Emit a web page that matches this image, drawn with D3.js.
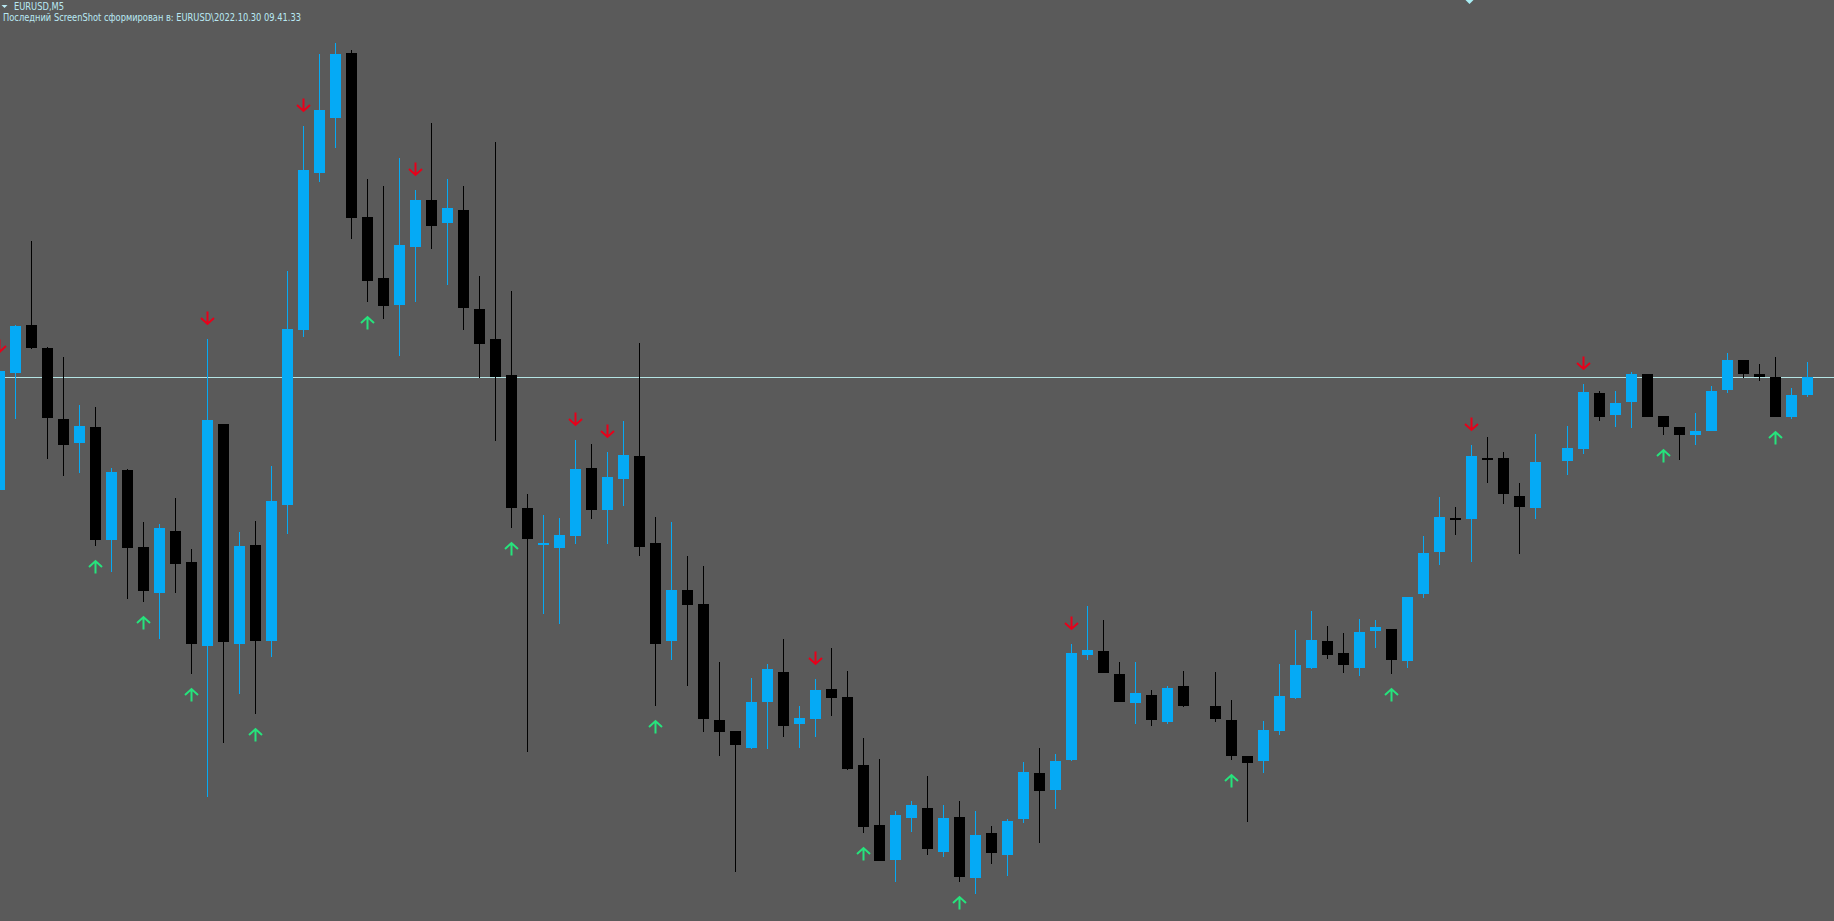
<!DOCTYPE html>
<html>
<head>
<meta charset="utf-8">
<script src="https://cdn.jsdelivr.net/npm/d3@7"></script>
<style>
  body { margin: 0; background: #5a5a5a; overflow: hidden; }
  svg { display: block; }
</style>
</head>
<body>
<svg id="plotCanvas"></svg>
<script>
var canvasWidth = 1834;
var canvasHeight = 921;

// EURUSD M5 bars, null = missing bar
var open = [0.99537,0.99654,0.99702,0.99679,0.99608,0.99584,0.99600,0.99487,0.99557,0.99480,
            0.99434,0.99496,0.99465,0.99381,0.99603,0.99383,0.99482,0.99386,0.99522,0.99697,
            0.99854,0.99909,0.99974,0.99810,0.99749,0.99722,0.99780,0.99827,0.99804,0.99817,
            0.99718,0.99688,0.99652,0.99519,0.99482,0.99479,0.99491,0.99559,0.99517,0.99548,
            0.99571,0.99484,0.99386,0.99437,0.99423,0.99307,0.99296,0.99279,0.99325,0.99355,
            0.99303,0.99308,0.99338,0.99330,0.99262,0.99202,0.99167,0.99209,0.99219,0.99175,
            0.99210,0.99149,0.99194,0.99172,0.99208,0.99254,0.99237,0.99267,0.99372,0.99376,
            0.99353,0.99324,0.99332,0.99305,0.99341,null,0.99321,0.99307,0.99271,0.99266,
            0.99296,0.99329,0.99359,0.99386,0.99374,0.99359,0.99396,0.99398,0.99366,0.99433,
            0.99475,0.99509,0.99508,0.99569,0.99569,0.99531,0.99519,null,0.99566,0.99578,
            0.99634,0.99612,0.99625,0.99653,0.99611,0.99600,0.99592,0.99596,0.99637,0.99667,
            0.99653,0.99650,0.99610,0.99632];
var high = [0.99660,0.99702,0.99786,0.99680,0.99670,0.99622,0.99620,0.99559,0.99558,0.99505,
            0.99503,0.99529,0.99478,0.99688,0.99603,0.99495,0.99506,0.99561,0.99756,0.99901,
            0.99973,0.99984,0.99977,0.99848,0.99841,0.99869,0.99837,0.99904,0.99848,0.99841,
            0.99751,0.99885,0.99736,0.99533,0.99512,0.99509,0.99587,0.99583,0.99575,0.99606,
            0.99684,0.99510,0.99505,0.99471,0.99461,0.99365,0.99296,0.99349,0.99363,0.99388,
            0.99321,0.99348,0.99379,0.99356,0.99289,0.99268,0.99216,0.99226,0.99251,0.99222,
            0.99226,0.99216,0.99201,0.99208,0.99265,0.99279,0.99273,0.99383,0.99421,0.99407,
            0.99365,0.99365,0.99337,0.99341,0.99356,null,0.99355,0.99327,0.99271,0.99306,
            0.99363,0.99397,0.99416,0.99401,0.99394,0.99408,0.99407,0.99398,0.99430,0.99491,
            0.99530,0.99520,0.99582,0.99590,0.99575,0.99544,0.99593,null,0.99601,0.99643,
            0.99636,0.99636,0.99655,0.99653,0.99611,0.99600,0.99614,0.99641,0.99674,0.99667,
            0.99663,0.99670,0.99639,0.99665];
var low =  [0.99534,0.99608,0.99678,0.99568,0.99551,0.99554,0.99481,0.99455,0.99428,0.99425,
            0.99388,0.99434,0.99353,0.99230,0.99284,0.99333,0.99313,0.99370,0.99493,0.99690,
            0.99845,0.99879,0.99788,0.99725,0.99708,0.99671,0.99725,0.99778,0.99742,0.99697,
            0.99649,0.99586,0.99499,0.99275,0.99413,0.99403,0.99483,0.99508,0.99483,0.99521,
            0.99471,0.99321,0.99367,0.99341,0.99295,0.99271,0.99155,0.99278,0.99278,0.99290,
            0.99279,0.99290,0.99311,0.99257,0.99194,0.99166,0.99145,0.99195,0.99172,0.99170,
            0.99145,0.99133,0.99163,0.99151,0.99204,0.99184,0.99218,0.99266,0.99367,0.99354,
            0.99325,0.99303,0.99301,0.99303,0.99320,null,0.99305,0.99267,0.99205,0.99254,
            0.99292,0.99328,0.99358,0.99368,0.99354,0.99351,0.99379,0.99353,0.99359,0.99429,
            0.99462,0.99492,0.99465,0.99544,0.99523,0.99473,0.99508,null,0.99552,0.99573,
            0.99606,0.99600,0.99599,0.99610,0.99592,0.99567,0.99582,0.99596,0.99634,0.99649,
            0.99646,0.99610,0.99608,0.99630];
var close = [0.99656,0.99701,0.99679,0.99609,0.99582,0.99601,0.99487,0.99555,0.99479,0.99436,
            0.99499,0.99463,0.99383,0.99607,0.99385,0.99481,0.99386,0.99526,0.99698,0.99857,
            0.99917,0.99973,0.99809,0.99746,0.99721,0.99782,0.99827,0.99801,0.99819,0.99719,
            0.99683,0.99650,0.99519,0.99488,0.99484,0.99492,0.99558,0.99517,0.99550,0.99572,
            0.99480,0.99383,0.99437,0.99422,0.99308,0.99295,0.99282,0.99325,0.99358,0.99301,
            0.99309,0.99337,0.99329,0.99258,0.99200,0.99166,0.99212,0.99222,0.99178,0.99209,
            0.99150,0.99192,0.99174,0.99206,0.99255,0.99236,0.99266,0.99374,0.99377,0.99354,
            0.99325,0.99334,0.99307,0.99339,0.99321,null,0.99308,0.99271,0.99264,0.99297,
            0.99331,0.99362,0.99387,0.99372,0.99362,0.99395,0.99400,0.99367,0.99430,0.99474,
            0.99510,0.99508,0.99571,0.99568,0.99533,0.99520,0.99565,null,0.99579,0.99635,
            0.99610,0.99624,0.99653,0.99610,0.99600,0.99592,0.99596,0.99636,0.99667,0.99653,
            0.99650,0.99610,0.99632,0.99650];

// indicator arrows (bar indices)
var sellSignals = [0, 13, 19, 26, 36, 38, 51, 67, 92, 99];
var buySignals = [6, 9, 12, 16, 23, 32, 41, 54, 60, 77, 87, 104, 111];

var bidPrice = 0.99650;
var symbolTitle = "EURUSD,M5";
var screenshotNote = "Последний ScreenShot сформирован в: EURUSD\\2022.10.30 09.41.33";

var bullColor = "#05aaf5";
var bearColor = "#000000";
var textColor = "#b9e9f3";

var canvas = d3.select("#plotCanvas")
        .attr("width", canvasWidth)
        .attr("height", canvasHeight)
        .attr("shape-rendering", "crispEdges");

canvas.append("rect")
        .attr("width", canvasWidth)
        .attr("height", canvasHeight)
        .attr("fill", "#5a5a5a");

var xScale = d3.scaleLinear().domain([0, 113]).range([-0.5, 1807.5]);
var yScale = d3.scaleLinear().domain([0.99127, 0.99997]).range([900, 30]);

//bid line
canvas.append("line")
        .attr("x1", 0)
        .attr("x2", canvasWidth)
        .attr("y1", Math.round(yScale(bidPrice)) + 0.5)
        .attr("y2", Math.round(yScale(bidPrice)) + 0.5)
        .attr("stroke", "#b4e4e4")
        .attr("stroke-width", 1);

var bars = [];
for (var i = 0; i < open.length; i++)
{
   if (open[i] == null) continue;
   bars.push({i: i, o: open[i], h: high[i], l: low[i], c: close[i]});
}

function barColor(d)
{
   return d.c > d.o ? bullColor : bearColor;
}

//wicks
canvas.append("g").selectAll("rect")
        .data(bars)
        .join("rect")
        .attr("x", function(d) { return xScale(d.i) - 0.5; })
        .attr("y", function(d) { return Math.round(yScale(d.h)); })
        .attr("width", 1)
        .attr("height", function(d) { return Math.max(1, Math.round(yScale(d.l)) - Math.round(yScale(d.h))); })
        .attr("fill", barColor);

//bodies
canvas.append("g").selectAll("rect")
        .data(bars)
        .join("rect")
        .attr("x", function(d) { return xScale(d.i) - 5.5; })
        .attr("y", function(d) { return Math.round(yScale(Math.max(d.o, d.c))); })
        .attr("width", 11)
        .attr("height", function(d) { return Math.max(2, Math.round(yScale(Math.min(d.o, d.c))) - Math.round(yScale(Math.max(d.o, d.c)))); })
        .attr("fill", barColor);

//arrows, 21px away from the extreme of the bar
var arrowOffset = 21;

canvas.append("g").selectAll("path")
        .data(sellSignals)
        .join("path")
        .attr("transform", function(d) { return "translate(" + xScale(d) + "," + (yScale(high[d]) - arrowOffset) + ")"; })
        .attr("d", "M0,-6.5L0,6M-6.5,0L0,6L6.5,0")
        .attr("fill", "none")
        .attr("stroke", "#e8001a")
        .attr("stroke-width", 2)
        .attr("shape-rendering", "auto");

canvas.append("g").selectAll("path")
        .data(buySignals)
        .join("path")
        .attr("transform", function(d) { return "translate(" + xScale(d) + "," + (yScale(low[d]) + arrowOffset) + ")"; })
        .attr("d", "M0,6.5L0,-6M-6.5,0L0,-6L6.5,0")
        .attr("fill", "none")
        .attr("stroke", "#26e37c")
        .attr("stroke-width", 2)
        .attr("shape-rendering", "auto");

//chart shift marker at the top
canvas.append("path")
        .attr("d", "M1465.5,0L1473.5,0L1469.5,4Z")
        .attr("fill", "#a8eef4")
        .attr("shape-rendering", "auto");

//title block
canvas.append("path")
        .attr("d", "M1.5,5L7.5,5L4.5,8Z")
        .attr("fill", textColor)
        .attr("shape-rendering", "auto");

canvas.append("text")
        .attr("x", 14)
        .attr("y", 10)
        .attr("fill", textColor)
        .attr("font-family", "Tahoma, 'DejaVu Sans', sans-serif")
        .attr("font-size", "10px")
        .attr("textLength", 50)
        .attr("lengthAdjust", "spacingAndGlyphs")
        .text(symbolTitle);

canvas.append("text")
        .attr("x", 3)
        .attr("y", 21)
        .attr("fill", textColor)
        .attr("font-family", "Tahoma, 'DejaVu Sans', sans-serif")
        .attr("font-size", "10px")
        .attr("textLength", 298)
        .attr("lengthAdjust", "spacingAndGlyphs")
        .text(screenshotNote);
</script>
</body>
</html>
